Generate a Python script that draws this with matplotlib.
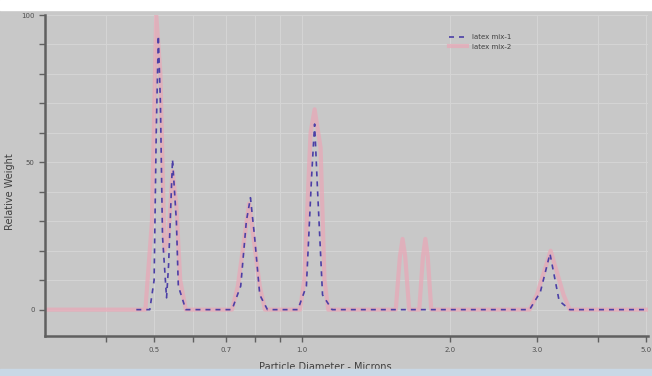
import matplotlib
matplotlib.use("Agg")
import matplotlib.pyplot as plt
from matplotlib.patches import Rectangle
from matplotlib.ticker import FixedLocator, NullFormatter

# latex mix-1 (blue dashed trace)
mix1_diam = [0.46, 0.49, 0.50, 0.505, 0.51, 0.515, 0.52, 0.53, 0.535, 0.545,
             0.555, 0.56, 0.58, 0.72, 0.75, 0.77, 0.785, 0.80, 0.82, 0.85,
             0.98, 1.02, 1.045, 1.06, 1.075, 1.10, 1.15, 2.9, 3.05, 3.19,
             3.33, 3.5, 5.1]
mix1_weight = [0, 0, 10, 60, 93, 70, 25, 4, 15, 51,
               30, 8, 0, 0, 8, 30, 38, 25, 5, 0,
               0, 8, 45, 63, 40, 5, 0, 0, 6, 19,
               3, 0, 0]

# latex mix-2 (pink trace)
mix2_diam = [0.30, 0.48, 0.495, 0.505, 0.515, 0.525, 0.535, 0.545, 0.555, 0.565,
             0.58, 0.72, 0.74, 0.78, 0.82, 0.84, 0.99, 1.01, 1.04, 1.06,
             1.09, 1.11, 1.13, 1.55, 1.58, 1.60, 1.62, 1.65, 1.73, 1.76,
             1.78, 1.80, 1.83, 2.9, 3.0, 3.2, 3.4, 3.5, 5.1]
mix2_weight = [0, 0, 30, 100, 80, 20, 25, 47, 35, 10,
               0, 0, 8, 36, 8, 0, 0, 10, 60, 68,
               55, 10, 0, 0, 18, 24, 18, 0, 0, 18,
               24, 18, 0, 0, 5, 20, 5, 0, 0]

x_major = [0.5, 0.7, 1.0, 2.0, 3.0, 5.0]
x_major_labels = ["0.5", "0.7", "1.0", "2.0", "3.0", "5.0"]
x_minor = [0.4, 0.6, 0.8, 0.9, 4.0]
y_major = [0, 50, 100]
y_minor = [10, 20, 30, 40, 60, 70, 80, 90]

bg = "#c8c8c8"
fig = plt.figure(figsize=(6.52, 3.76), dpi=100, facecolor=bg)
# white strip at top and pale blue strip at bottom, like the screenshot
fig.patches.append(Rectangle((0, 0.973), 1, 0.027, transform=fig.transFigure,
                             color="white", zorder=0))
fig.patches.append(Rectangle((0, 0), 1, 0.018, transform=fig.transFigure,
                             color="#c9d8e6", zorder=0))

ax = fig.add_axes([0.069, 0.106, 0.925, 0.854])
ax.set_facecolor(bg)
ax.set_xscale("log")
ax.set_xlim(0.3, 5.05)
ax.set_ylim(-9, 100)

ax.plot(mix2_diam, mix2_weight, color="#eaa6b6", lw=3.0, alpha=0.7,
        label="latex mix-2", zorder=2)
ax.plot(mix1_diam, mix1_weight, color="#4b3fa6", lw=1.2,
        linestyle=(0, (3, 3)), label="latex mix-1", zorder=3)

ax.xaxis.set_major_locator(FixedLocator(x_major))
ax.xaxis.set_minor_locator(FixedLocator(x_minor))
ax.set_xticklabels(x_major_labels)
ax.xaxis.set_minor_formatter(NullFormatter())
ax.yaxis.set_major_locator(FixedLocator(y_major))
ax.yaxis.set_minor_locator(FixedLocator(y_minor))

ax.grid(True, which="both", color="#d4d4d4", lw=0.8, zorder=0)
ax.set_axisbelow(True)

for side in ["top", "right"]:
    ax.spines[side].set_visible(False)
for side in ["left", "bottom"]:
    ax.spines[side].set_color("#606060")
    ax.spines[side].set_linewidth(1.8)

ax.tick_params(which="both", colors="#606060", labelcolor="#505050",
               labelsize=5, length=4, width=1)

ax.set_xlabel("Particle Diameter - Microns", fontsize=7, color="#404040")
ax.xaxis.set_label_coords(0.465, -0.08)
ax.set_ylabel("Relative Weight", fontsize=7, color="#404040")
ax.yaxis.set_label_coords(-0.05, 0.45)

handles, labels = ax.get_legend_handles_labels()
ax.legend(handles[::-1], labels[::-1], loc="upper left",
          bbox_to_anchor=(0.66, 0.96), frameon=False, fontsize=5,
          handlelength=2.5, labelcolor="#404040")

fig.savefig("out.png", dpi=100, facecolor=bg)
